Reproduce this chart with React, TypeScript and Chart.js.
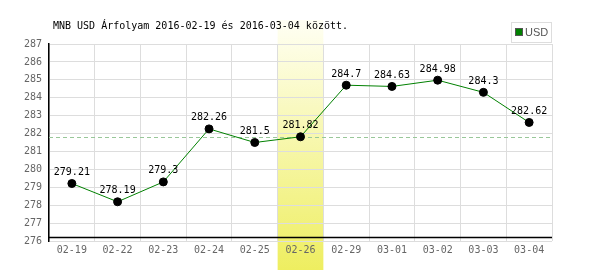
import React, { useEffect, useRef } from "react";
import { Chart, registerables } from "chart.js";

Chart.register(...registerables);

const categories = ["02-19", "02-22", "02-23", "02-24", "02-25", "02-26", "02-29", "03-01", "03-02", "03-03", "03-04"];
const usdValues = [279.21, 278.19, 279.3, 282.26, 281.5, 281.82, 284.7, 284.63, 284.98, 284.3, 282.62];
const highlightIndex = 5;
const referenceValue = 281.82;
const yMin = 276;
const yMax = 287;
const titleText = "MNB USD Árfolyam 2016-02-19 és 2016-03-04 között.";
const seriesName = "USD";

const MONO = "'DejaVu Sans Mono', 'Liberation Mono', monospace";

export default function App() {
  const ref = useRef<HTMLCanvasElement | null>(null);

  useEffect(() => {
    const canvas = ref.current!;
    const highlightPlugin = {
      id: "highlight",
      beforeDraw(chart: any) {
        const { ctx, scales } = chart;
        const x = scales.x;
        const cx = x.getPixelForValue(highlightIndex);
        const w = x.getPixelForValue(1) - x.getPixelForValue(0);
        const top = 20;
        const bottom = chart.height;
        const g = ctx.createLinearGradient(0, top, 0, bottom);
        g.addColorStop(0, "#fffff4");
        g.addColorStop(1, "#eeee60");
        ctx.save();
        ctx.fillStyle = g;
        ctx.fillRect(cx - w / 2, top, w, bottom - top);
        ctx.restore();
      },
      beforeDatasetsDraw(chart: any) {
        const { ctx, chartArea, scales } = chart;
        const y = Math.round(scales.y.getPixelForValue(referenceValue)) + 0.5;
        ctx.save();
        ctx.strokeStyle = "#99c799";
        ctx.lineWidth = 1;
        ctx.setLineDash([4, 3]);
        ctx.beginPath();
        ctx.moveTo(chartArea.left, y);
        ctx.lineTo(chartArea.right, y);
        ctx.stroke();
        ctx.setLineDash([]);
        const by = chartArea.bottom - 3.5;
        ctx.strokeStyle = "#000";
        ctx.lineWidth = 1.5;
        ctx.beginPath();
        ctx.moveTo(chartArea.left - 1, by);
        ctx.lineTo(chartArea.right, by);
        ctx.stroke();
        ctx.restore();
      },
      afterDatasetsDraw(chart: any) {
        const { ctx } = chart;
        const meta = chart.getDatasetMeta(0);
        ctx.save();
        ctx.font = `10px ${MONO}`;
        ctx.fillStyle = "#000";
        ctx.textAlign = "center";
        ctx.textBaseline = "middle";
        meta.data.forEach((pt: any, i: number) => {
          ctx.fillText(String(usdValues[i]), pt.x, pt.y - 11);
        });
        ctx.textAlign = "left";
        ctx.fillText(titleText, 53, 26);
        ctx.strokeStyle = "#dddddd";
        ctx.lineWidth = 1;
        ctx.strokeRect(511.5, 22.5, 40, 20);
        ctx.fillStyle = "#008000";
        ctx.fillRect(516, 29, 6, 6);
        ctx.strokeStyle = "#555";
        ctx.strokeRect(515.5, 28.5, 7, 7);
        ctx.fillStyle = "#555";
        ctx.font = "11px 'Liberation Sans', Arial, sans-serif";
        ctx.fillText(seriesName, 525, 33);
        ctx.restore();
      },
    };

    const chart = new Chart(canvas, {
      type: "line",
      data: {
        labels: categories,
        datasets: [
          {
            label: seriesName,
            data: usdValues,
            borderColor: "#008000",
            borderWidth: 1,
            pointBackgroundColor: "#000",
            pointBorderColor: "#000",
            pointRadius: 4,
            pointHoverRadius: 4,
            tension: 0,
          },
        ],
      },
      options: {
        animation: false,
        responsive: false,
        maintainAspectRatio: false,
        layout: { padding: { top: 44, right: 48, left: 0, bottom: 0 } },
        plugins: { legend: { display: false }, tooltip: { enabled: false }, title: { display: false } },
        scales: {
          x: {
            offset: true,
            grid: { offset: true, color: "#dddddd", drawTicks: false, lineWidth: 1 },
            border: { display: false },
            ticks: { color: "#666", font: { family: MONO, size: 10 }, padding: 3, maxRotation: 0, autoSkip: false },
            afterFit(scale: any) {
              scale.height = 29;
            },
          },
          y: {
            min: yMin,
            max: yMax,
            grid: { color: "#dddddd", drawTicks: false },
            border: { display: true, color: "#000", width: 1.5 },
            ticks: { stepSize: 1, color: "#666", font: { family: MONO, size: 10 }, padding: 7 },
            afterFit(scale: any) {
              scale.width = 49;
            },
          },
        },
      },
      plugins: [highlightPlugin],
    });
    return () => chart.destroy();
  }, []);

  return (
    <div style={{ position: "absolute", left: 0, top: 0, width: 600, height: 270, background: "#fff" }}>
      <canvas ref={ref} width={600} height={270} style={{ width: 600, height: 270 }} />
    </div>
  );
}
